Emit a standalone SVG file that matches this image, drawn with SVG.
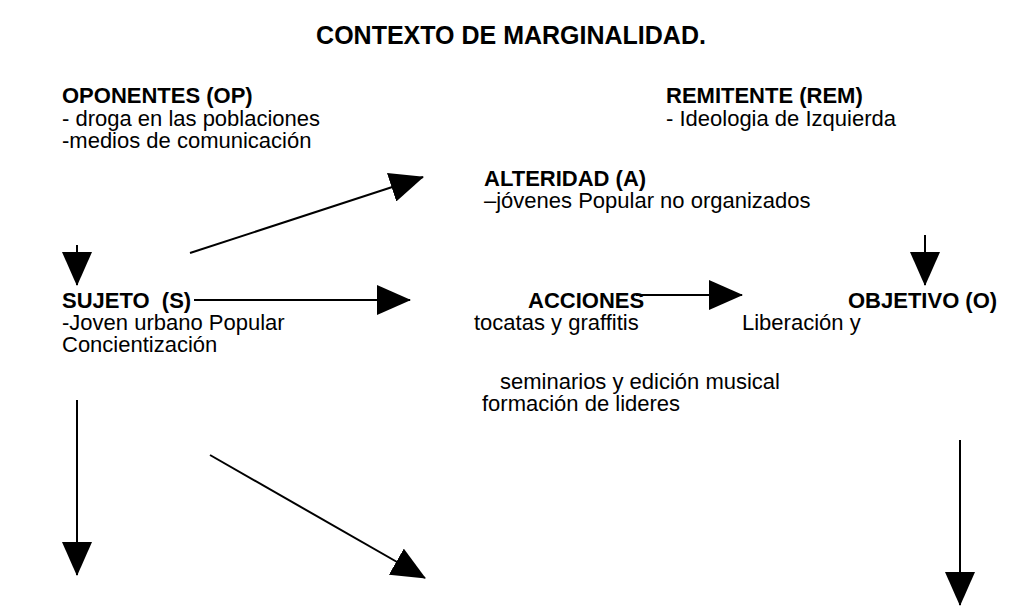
<svg xmlns="http://www.w3.org/2000/svg" width="1026" height="616" viewBox="0 0 1026 616">
<style>
text{font-family:"Liberation Sans",Arial,sans-serif;font-size:22px;fill:#000}
.b{font-weight:bold}
.t{font-size:25px;font-weight:bold}
.c line{stroke:#000;stroke-width:2}
</style>
<defs>
<marker id="ah" markerUnits="userSpaceOnUse" markerWidth="34" markerHeight="30" viewBox="0 0 34 30" refX="33" refY="15" orient="auto">
<path d="M0,0 L34,15 L0,30 z" fill="#000"/>
</marker>
</defs>
<rect width="1026" height="616" fill="#fff"/>
<g id="title"><text class="t" x="511" y="44" text-anchor="middle">CONTEXTO DE MARGINALIDAD.</text></g>
<g id="oponentes">
<text class="b" x="62" y="103">OPONENTES (OP)</text>
<text x="62" y="126">- droga en las poblaciones</text>
<text x="62" y="148">-medios de comunicación</text>
</g>
<g id="remitente">
<text class="b" x="666" y="103">REMITENTE (REM)</text>
<text x="666" y="126">- Ideologia de Izquierda</text>
</g>
<g id="alteridad">
<text class="b" x="484" y="186">ALTERIDAD (A)</text>
<text x="484" y="208">–jóvenes Popular no organizados</text>
</g>
<g id="sujeto">
<text class="b" x="62" y="308" xml:space="preserve">SUJETO  (S)</text>
<text x="62" y="330">-Joven urbano Popular</text>
<text x="62" y="352">Concientización</text>
</g>
<g id="acciones">
<text class="b" x="528" y="308">ACCIONES</text>
<text x="474" y="330">tocatas y graffitis</text>
<text x="500" y="389">seminarios y edición musical</text>
<text x="482" y="411">formación de lideres</text>
</g>
<g id="objetivo">
<text class="b" x="848" y="308">OBJETIVO (O)</text>
<text x="742" y="330">Liberación y</text>
</g>
<g id="connectors" class="c">
<line x1="190" y1="253" x2="423" y2="177" marker-end="url(#ah)"/>
<line x1="77" y1="245" x2="77" y2="285" marker-end="url(#ah)"/>
<line x1="925" y1="235" x2="925" y2="285" marker-end="url(#ah)"/>
<line x1="194" y1="300" x2="410" y2="300" marker-end="url(#ah)"/>
<line x1="636" y1="295" x2="742" y2="295" marker-end="url(#ah)"/>
<line x1="77" y1="400" x2="77" y2="575" marker-end="url(#ah)"/>
<line x1="210" y1="455" x2="425" y2="578" marker-end="url(#ah)"/>
<line x1="960" y1="440" x2="960" y2="605" marker-end="url(#ah)"/>
</g>
</svg>
